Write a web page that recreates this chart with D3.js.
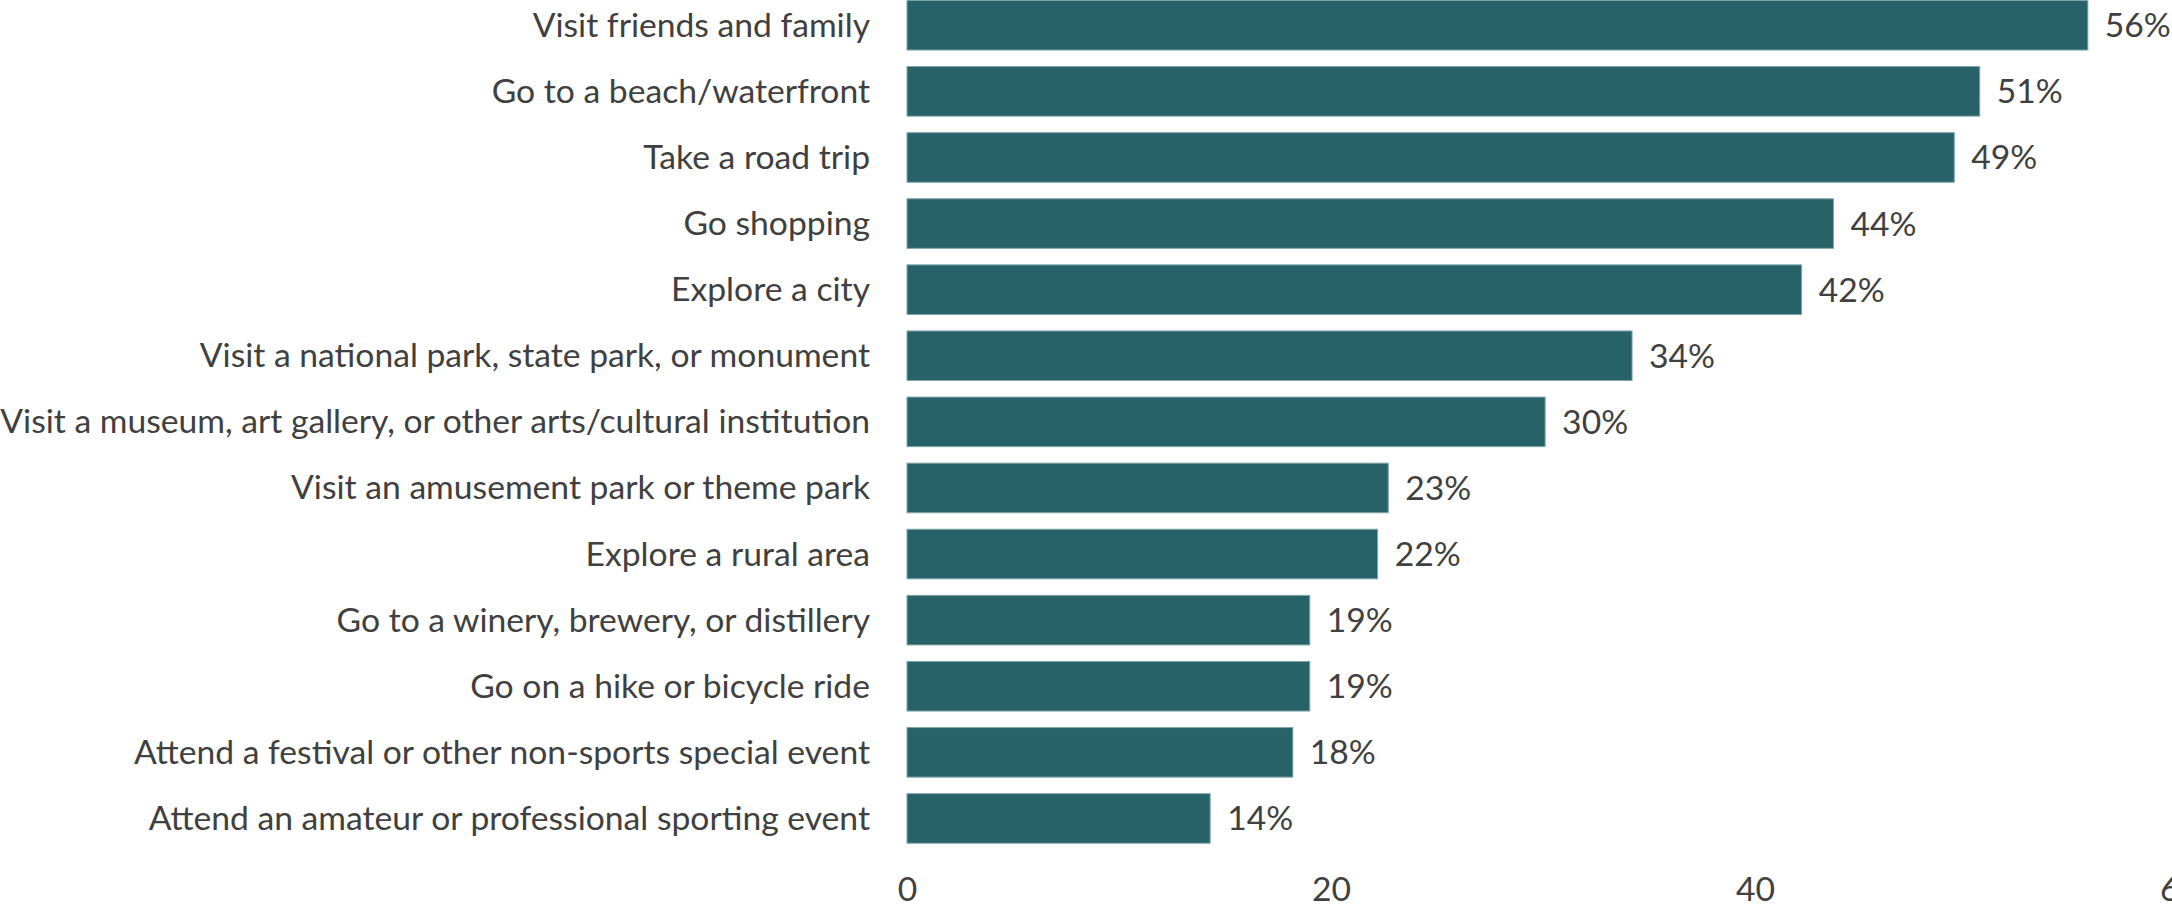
<!DOCTYPE html>
<html>
<head>
<meta charset="utf-8">
<script src="https://cdn.jsdelivr.net/npm/d3@7"></script>
<style>
  html, body { margin: 0; padding: 0; background: #ffffff; overflow: hidden; }
  svg { display: block; }
  text { font-family: Lato, "Open Sans", sans-serif; fill: #404040; }
</style>
</head>
<body>
<svg id="chart" width="2172" height="908"></svg>
<script>
const categories = [
  "Visit friends and family",
  "Go to a beach/waterfront",
  "Take a road trip",
  "Go shopping",
  "Explore a city",
  "Visit a national park, state park, or monument",
  "Visit a museum, art gallery, or other arts/cultural institution",
  "Visit an amusement park or theme park",
  "Explore a rural area",
  "Go to a winery, brewery, or distillery",
  "Go on a hike or bicycle ride",
  "Attend a festival or other non-sports special event",
  "Attend an amateur or professional sporting event"
];
const values = [55.7, 50.6, 49.4, 43.7, 42.2, 34.2, 30.1, 22.7, 22.2, 19.0, 19.0, 18.2, 14.3];
const valueLabels = ["56%", "51%", "49%", "44%", "42%", "34%", "30%", "23%", "22%", "19%", "19%", "18%", "14%"];
const tickValues = [0, 20, 40, 60];

const svg = d3.select("#chart");
const barColor = "#266268";
const textColor = "#404040";

const x = d3.scaleLinear().domain([0, 60]).range([907, 2179]);
const y = d3.scaleBand().domain(categories).range([-7.8, 851.5]).paddingInner(0.25).paddingOuter(0.125);

// category labels, sized to fit the reference width
const labelRight = 870;
const targetWidth = 870;
let fontSize = 30;
const probe = svg.append("text").attr("font-size", fontSize).text(categories[6]);
const w = probe.node().getComputedTextLength();
probe.remove();
fontSize = fontSize * targetWidth / w;

svg.append("g").selectAll("rect")
  .data(values)
  .join("rect")
  .attr("x", x(0))
  .attr("y", (d, i) => y(categories[i]))
  .attr("width", d => x(d) - x(0))
  .attr("height", y.bandwidth())
  .attr("fill", barColor)
  .attr("stroke", "#7fa7ab")
  .attr("stroke-width", 1);

svg.append("g").selectAll("text")
  .data(categories)
  .join("text")
  .attr("x", labelRight)
  .attr("y", d => y(d) + y.bandwidth() / 2 - 1.5)
  .attr("text-anchor", "end")
  .attr("dominant-baseline", "central")
  .attr("font-size", fontSize)
  .text(d => d);

svg.append("g").selectAll("text")
  .data(values)
  .join("text")
  .attr("x", d => x(d) + 17)
  .attr("y", (d, i) => y(categories[i]) + y.bandwidth() / 2 - 1)
  .attr("dominant-baseline", "central")
  .attr("font-size", fontSize)
  .text((d, i) => valueLabels[i]);

const axis = d3.axisBottom(x).tickValues(tickValues).tickSize(0).tickPadding(0).tickFormat(d3.format("d"));
const gAxis = svg.append("g").attr("transform", "translate(0,880)").call(axis);
gAxis.select(".domain").remove();
gAxis.selectAll("text")
  .attr("font-size", fontSize)
  .attr("dy", null)
  .attr("y", 8)
  .attr("dominant-baseline", "central")
  .style("font-family", "Lato, 'Open Sans', sans-serif")
  .attr("fill", textColor);
</script>
</body>
</html>
